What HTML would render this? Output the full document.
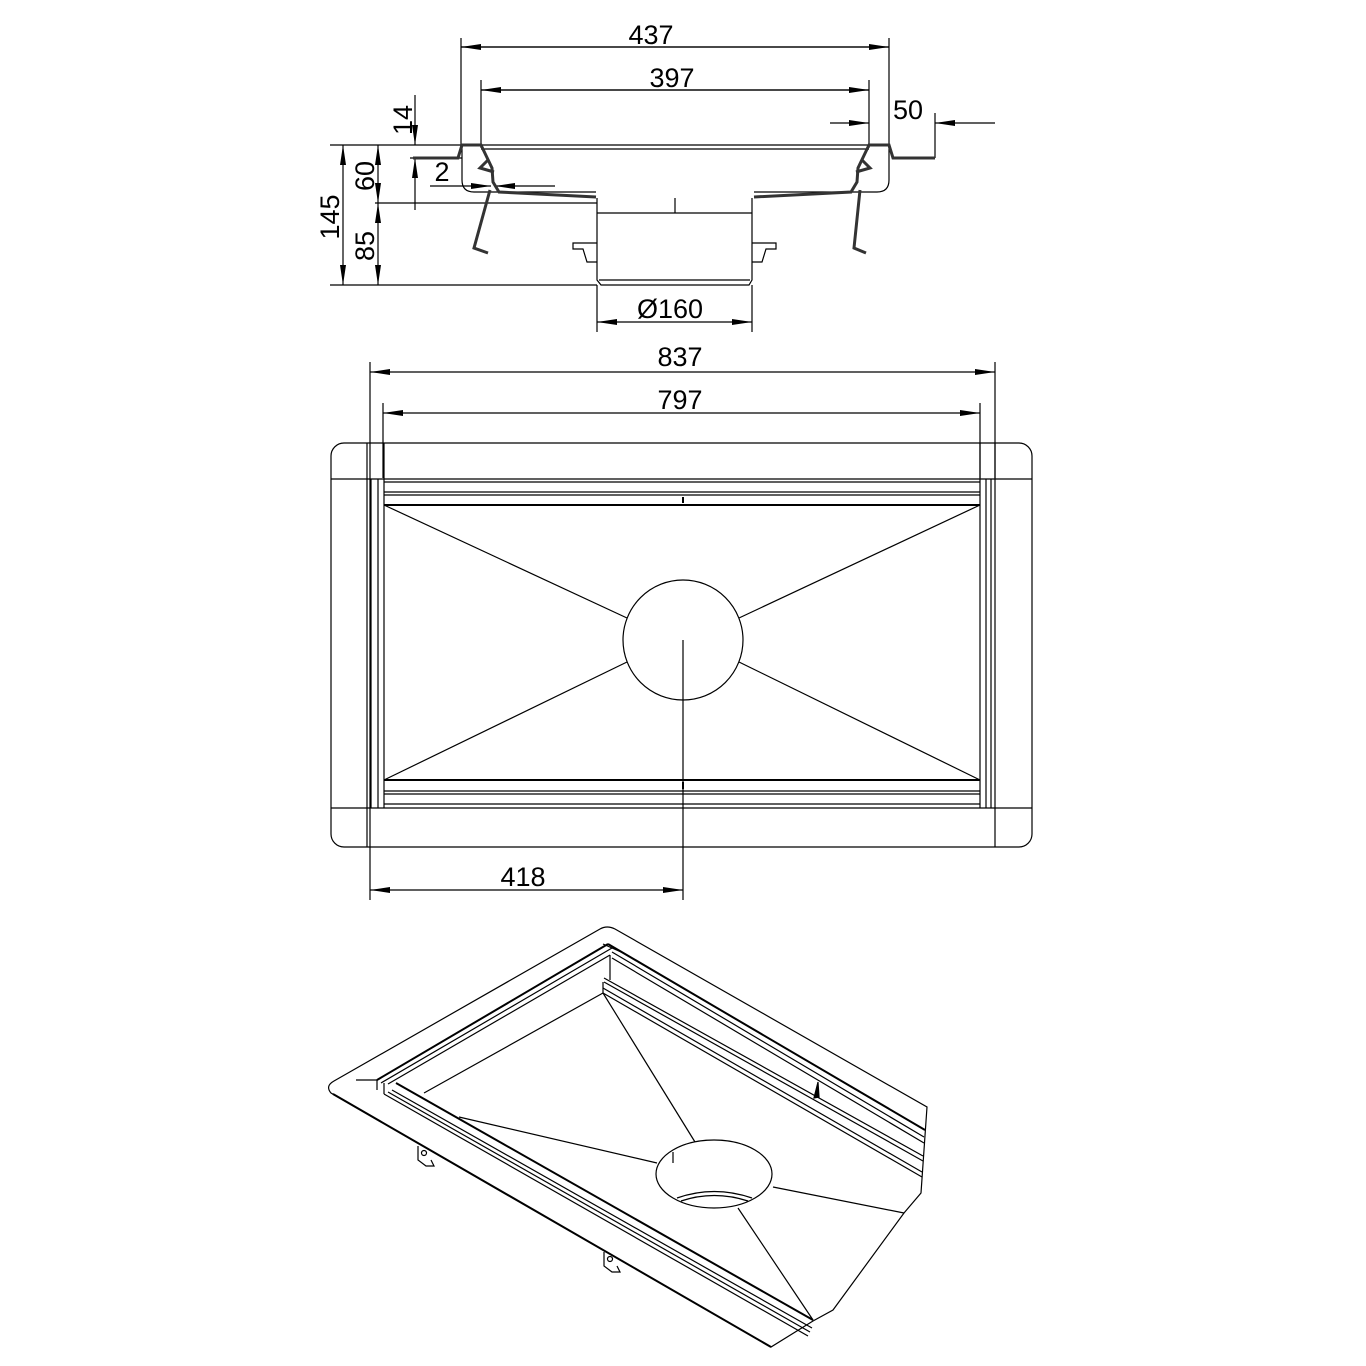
<!DOCTYPE html>
<html><head><meta charset="utf-8"><style>
html,body{margin:0;padding:0;background:#fff;}
svg{display:block;}
text{font-family:"Liberation Sans Narrow","Liberation Sans",sans-serif;font-size:27px;fill:#000;}
</style></head><body>
<svg width="1366" height="1366" viewBox="0 0 1366 1366" xmlns="http://www.w3.org/2000/svg">
<defs>
<marker id="a" viewBox="0 0 20 6" refX="20" refY="3" markerWidth="20" markerHeight="6" markerUnits="userSpaceOnUse" orient="auto"><path d="M0,0 L20,3 L0,6 z" fill="#000"/></marker>
</defs>
<g stroke="#000" stroke-width="1.2" fill="none">
<line x1="461" y1="38" x2="461" y2="148"/>
<line x1="889" y1="38" x2="889" y2="148"/>
<line x1="481" y1="80" x2="481" y2="148"/>
<line x1="869" y1="80" x2="869" y2="148"/>
<line x1="935" y1="113" x2="935" y2="158"/>
<line x1="889" y1="47" x2="461" y2="47" marker-end="url(#a)"/>
<line x1="461" y1="47" x2="889" y2="47" marker-end="url(#a)"/>
<line x1="481" y1="90" x2="869" y2="90" marker-end="url(#a)"/>
<line x1="869" y1="90" x2="481" y2="90" marker-end="url(#a)"/>
<line x1="830" y1="123" x2="869" y2="123" marker-end="url(#a)"/>
<line x1="995" y1="123" x2="935" y2="123" marker-end="url(#a)"/>
<line x1="330" y1="145" x2="462" y2="145"/>
<line x1="410" y1="158" x2="462" y2="158"/>
<line x1="375" y1="203" x2="597" y2="203"/>
<line x1="330" y1="285" x2="597" y2="285"/>
<line x1="415" y1="95" x2="415" y2="145" marker-end="url(#a)"/>
<line x1="415" y1="210" x2="415" y2="158" marker-end="url(#a)"/>
<line x1="343" y1="215" x2="343" y2="145" marker-end="url(#a)"/>
<line x1="343" y1="215" x2="343" y2="285" marker-end="url(#a)"/>
<line x1="378" y1="175" x2="378" y2="145" marker-end="url(#a)"/>
<line x1="378" y1="175" x2="378" y2="203" marker-end="url(#a)"/>
<line x1="378" y1="244" x2="378" y2="203" marker-end="url(#a)"/>
<line x1="378" y1="244" x2="378" y2="285" marker-end="url(#a)"/>
<line x1="430" y1="186" x2="491" y2="186" marker-end="url(#a)"/>
<line x1="555" y1="186" x2="495" y2="186" marker-end="url(#a)"/>
<path d="M462,145 V180 Q462,192 474,192 H596"/>
<path d="M889,145 V180 Q889,192 877,192 H754"/>
<line x1="481" y1="145" x2="869" y2="145"/>
<line x1="481" y1="149" x2="869" y2="149"/>
<g stroke-width="3" stroke="#333">
<path d="M413,158 H458 L462,145 H481 L492,168 L493,182 L499,192 L596,197"/>
<path d="M935,158 H893 L889,145 H869 L858,168 L857,182 L851,192 L754,197"/>
<path d="M488,160 L480,168 L494,172"/>
<path d="M862,160 L870,168 L856,172"/>
<path d="M490,190 L474,248 L488,253"/>
<path d="M860,190 L854,248 L866,253"/>
</g>
<path d="M597,198 V280 L601,285 H749 L752,280 V198"/>
<line x1="597" y1="213" x2="752" y2="213"/>
<line x1="675" y1="198" x2="675" y2="213"/>
<line x1="599" y1="280" x2="750" y2="280"/>
<path d="M597,243 H573 V249 H583 L587,262 H597"/>
<path d="M752,243 H776 V249 H766 L762,262 H752"/>
<line x1="597" y1="285" x2="597" y2="332"/>
<line x1="752" y1="285" x2="752" y2="332"/>
<line x1="675" y1="322" x2="597" y2="322" marker-end="url(#a)"/>
<line x1="675" y1="322" x2="752" y2="322" marker-end="url(#a)"/>

<line x1="370" y1="362" x2="370" y2="900"/>
<line x1="995" y1="362" x2="995" y2="478"/>
<line x1="383" y1="403" x2="383" y2="478"/>
<line x1="980" y1="403" x2="980" y2="478"/>
<line x1="683" y1="372" x2="370" y2="372" marker-end="url(#a)"/>
<line x1="683" y1="372" x2="995" y2="372" marker-end="url(#a)"/>
<line x1="683" y1="413" x2="383" y2="413" marker-end="url(#a)"/>
<line x1="683" y1="413" x2="980" y2="413" marker-end="url(#a)"/>
<rect x="331" y="443" width="701" height="404" rx="13"/>
<line x1="331" y1="479" x2="1032" y2="479"/>
<line x1="331" y1="808" x2="1032" y2="808"/>
<line x1="367" y1="443" x2="367" y2="847"/>
<line x1="384" y1="443" x2="384" y2="808"/>
<line x1="995" y1="443" x2="995" y2="847"/>
<line x1="980" y1="443" x2="980" y2="808"/>
<line x1="371" y1="479" x2="371" y2="808"/>
<line x1="378" y1="479" x2="378" y2="808"/>
<line x1="986" y1="479" x2="986" y2="808"/>
<line x1="991" y1="479" x2="991" y2="808"/>
<line x1="384" y1="482" x2="980" y2="482"/>
<line x1="384" y1="492" x2="980" y2="492"/>
<line x1="384" y1="495" x2="980" y2="495"/>
<line x1="384" y1="505" x2="980" y2="505" stroke-width="2"/>
<line x1="384" y1="780" x2="980" y2="780" stroke-width="2"/>
<line x1="384" y1="791" x2="980" y2="791"/>
<line x1="384" y1="794" x2="980" y2="794"/>
<line x1="384" y1="804" x2="980" y2="804"/>
<line x1="683" y1="497" x2="683" y2="503" stroke-width="2"/>
<line x1="683" y1="782" x2="683" y2="789" stroke-width="2"/>
<circle cx="683" cy="640" r="60"/>
<line x1="384" y1="505" x2="627" y2="618"/>
<line x1="980" y1="505" x2="739" y2="618"/>
<line x1="384" y1="780" x2="627" y2="662"/>
<line x1="980" y1="780" x2="739" y2="662"/>
<line x1="683" y1="640" x2="683" y2="900"/>
<line x1="527" y1="890" x2="370" y2="890" marker-end="url(#a)"/>
<line x1="527" y1="890" x2="683" y2="890" marker-end="url(#a)"/>

<path d="M771,1347 L331,1093 Q325,1086 334,1081 L600,929 Q607,925 615,929 L927,1107 L921,1193 L904,1213 L833,1310 L813,1321 Z"/>
<line x1="333" y1="1094" x2="771" y2="1347" stroke-width="2"/>
<line x1="603" y1="944" x2="621" y2="952" />
<line x1="356" y1="1080" x2="377" y2="1080"/>
<line x1="377" y1="1080" x2="608" y2="944" stroke-width="2"/>
<line x1="381" y1="1083" x2="612" y2="948"/>
<line x1="388" y1="1084" x2="610" y2="955"/>
<line x1="608" y1="944" x2="925" y2="1130" stroke-width="2"/>
<line x1="612" y1="952" x2="924" y2="1137"/>
<line x1="612" y1="958" x2="924" y2="1143"/>
<line x1="604" y1="978" x2="923" y2="1156"/>
<line x1="604" y1="982" x2="923" y2="1161"/>
<line x1="610" y1="955" x2="610" y2="980"/>
<line x1="603" y1="982" x2="603" y2="993"/>
<line x1="603" y1="993" x2="922" y2="1177"/>
<line x1="603" y1="988" x2="922" y2="1172"/>
<line x1="377" y1="1080" x2="377" y2="1090"/>
<line x1="384" y1="1083" x2="384" y2="1094"/>
<line x1="396" y1="1083" x2="813" y2="1320" stroke-width="2"/>
<line x1="384" y1="1094" x2="808" y2="1336"/>
<line x1="388" y1="1092" x2="810" y2="1332"/>
<line x1="392" y1="1090" x2="812" y2="1328"/>
<line x1="424" y1="1093" x2="603" y2="993"/>
<line x1="603" y1="993" x2="695" y2="1142"/>
<line x1="459" y1="1117" x2="657" y2="1163"/>
<line x1="773" y1="1187" x2="904" y2="1213"/>
<line x1="738" y1="1208" x2="813" y2="1320"/>
<ellipse cx="714" cy="1174" rx="58" ry="34"/>
<path d="M677,1198 Q714,1185 752,1198"/>
<path d="M681,1201 Q714,1190 748,1201"/>
<line x1="673" y1="1152" x2="673" y2="1163"/>
<path d="M818,1082 L814,1098 L819,1097 Z" fill="#000"/>
<path d="M418,1146 V1160 L426,1166 L434,1166 L431,1160"/>
<circle cx="424" cy="1153" r="2.5"/>
<path d="M604,1252 V1266 L612,1272 L620,1272 L617,1266"/>
<circle cx="610" cy="1259" r="2.5"/>
</g>
<g>
<text x="651" y="44" text-anchor="middle">437</text>
<text x="672" y="87" text-anchor="middle">397</text>
<text x="908" y="119" text-anchor="middle">50</text>
<text x="442" y="181" text-anchor="middle">2</text>
<text transform="translate(412,120) rotate(-90)" text-anchor="middle">14</text>
<text transform="translate(374,176) rotate(-90)" text-anchor="middle">60</text>
<text transform="translate(374,246) rotate(-90)" text-anchor="middle">85</text>
<text transform="translate(339,217) rotate(-90)" text-anchor="middle">145</text>
<text x="670" y="318" text-anchor="middle">Ø160</text>
<text x="680" y="366" text-anchor="middle">837</text>
<text x="680" y="409" text-anchor="middle">797</text>
<text x="523" y="886" text-anchor="middle">418</text>
</g>
</svg>
</body></html>
